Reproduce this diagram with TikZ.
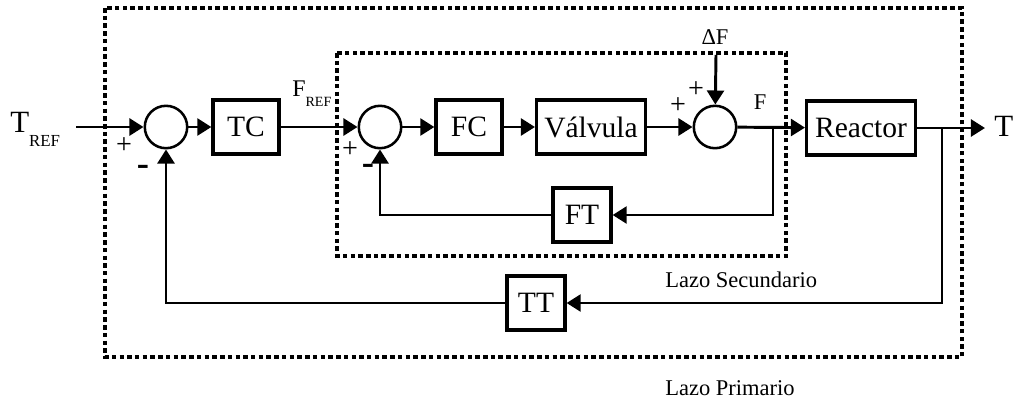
\documentclass[tikz,border=0pt]{standalone}
\usepackage{fontspec}
\setmainfont{Liberation Serif}
\usetikzlibrary{arrows.meta}

\begin{document}
\begin{tikzpicture}[x=0.025cm, y=-0.025cm,
  block/.style={rectangle, draw, line width=2.3pt, minimum height=1.35cm, inner sep=2pt, font=\fontsize{21}{24}\selectfont},
  sum/.style={circle, draw, line width=1.8pt, minimum size=1.06cm, inner sep=0pt},
  arrow/.style={-{Triangle[length=10pt,width=12pt]}, line width=2.1pt},
  loopbox/.style={line width=2.4pt, dash pattern=on 3.2pt off 2.3pt},
  sign/.style={font=\fontsize{20}{22}\selectfont, inner sep=0pt},
  minus/.style={font=\fontsize{26}{28}\selectfont\bfseries, inner sep=0pt},
  lbl/.style={font=\fontsize{16}{18}\selectfont, inner sep=0pt}
]
\useasboundingbox (0,0) rectangle (1017,404);

\draw[loopbox] (105,8) rectangle (962,357);
\draw[loopbox] (337,53) rectangle (786,256);

\node[sum] (s1) at (166,127) {};
\node[block, minimum width=1.65cm] (tc) at (246,127) {TC};
\node[sum] (s2) at (380,127) {};
\node[block, minimum width=1.65cm] (fc) at (469,127) {FC};
\node[block, minimum width=2.72cm] (valve) at (591,127) {Válvula};
\node[sum] (s3) at (715,127) {};
\node[block, minimum width=2.72cm] (reactor) at (861,128) {Reactor};
\node[block, minimum width=1.45cm] (ft) at (582,215) {FT};
\node[block, minimum width=1.45cm] (tt) at (536,303) {TT};

\node[anchor=base west, inner sep=0pt, font=\fontsize{22}{24}\selectfont] (tref) at (10,132)
  {T\raisebox{-10.5pt}{\fontsize{12}{14}\selectfont REF}};
\node[anchor=base west, inner sep=0pt, font=\fontsize{17}{18}\selectfont] (fref) at (292,96)
  {F\raisebox{-7.8pt}{\fontsize{10}{11}\selectfont REF}};
\node[anchor=base west, inner sep=0pt, font=\fontsize{22}{24}\selectfont] (tout) at (994,136) {T};
\node[lbl] (df) at (715,37) {ΔF};
\node[lbl] (fout) at (760,102) {F};

\node[sign] at (124,146) {+};
\node[minus] at (143,170) {-};
\node[sign] at (350,150) {+};
\node[minus] at (368,169) {-};
\node[sign] at (696,90) {+};
\node[sign] at (678,106) {+};

\node[lbl, anchor=west] (sec) at (665,280) {Lazo Secundario};
\node[lbl, anchor=west] (pri) at (665,388) {Lazo Primario};

\coordinate (in) at (76,127);
\coordinate (out) at (985,128);
\coordinate (dfin) at (716,55);
\coordinate (fb1) at (773,127);
\coordinate (fb2) at (942,128);

\draw[arrow] (in) -- (s1);
\draw[arrow] (s1) -- (tc);
\draw[arrow] (tc) -- (s2);
\draw[arrow] (s2) -- (fc);
\draw[arrow] (fc) -- (valve);
\draw[arrow] (valve) -- (s3);
\draw[arrow] (dfin) -- (s3);
\draw[arrow] (s3) -- (reactor);
\draw[arrow] (reactor) -- (out);
\draw[arrow] (fb1) |- (ft);
\draw[arrow] (ft) -| (s2);
\draw[arrow] (fb2) |- (tt);
\draw[arrow] (tt) -| (s1);
\end{tikzpicture}
\end{document}
